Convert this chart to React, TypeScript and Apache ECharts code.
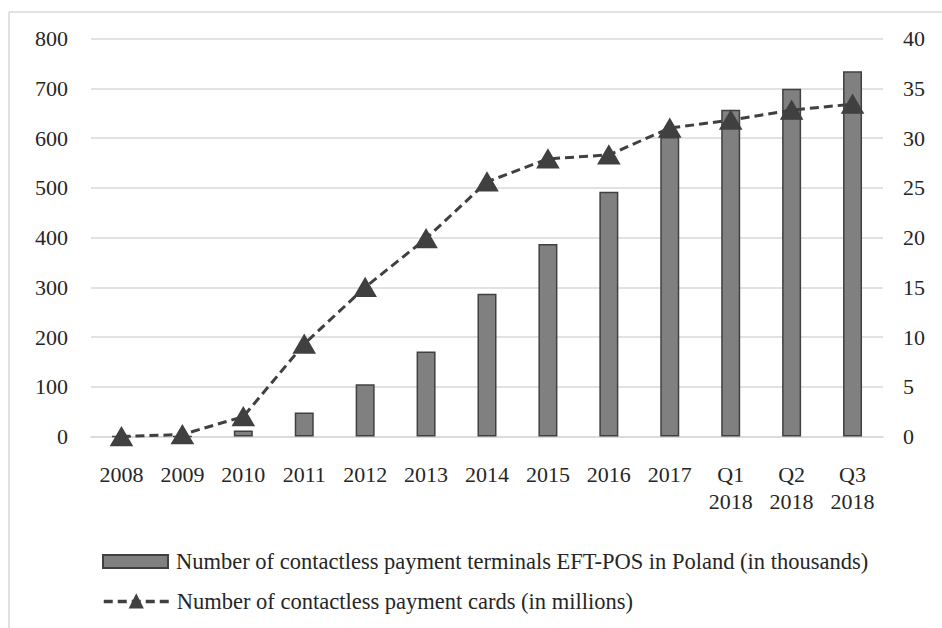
import React, { useEffect, useRef } from "react";
import * as echarts from "echarts";

const categories = ["2008", "2009", "2010", "2011", "2012", "2013", "2014", "2015", "2016", "2017", "Q1\n2018", "Q2\n2018", "Q3\n2018"];
const terminals = [0, 0, 12, 48, 105, 171, 287, 387, 492, 602, 657, 699, 734];
const cards = [0, 0.2, 2.0, 9.3, 15.0, 19.9, 25.6, 27.9, 28.3, 31.0, 31.8, 32.8, 33.4];
const terminalsName = "Number of contactless payment terminals EFT-POS in Poland (in thousands)";
const cardsName = "Number of contactless payment cards (in millions)";

const FONT = "Liberation Serif";
const TEXT = "#262626";
const GRID = "#d9d9d9";
const DARK = "#404040";

export default function App() {
  const ref = useRef<HTMLDivElement>(null);
  useEffect(() => {
    if (!ref.current) return;
    const chart = echarts.init(ref.current, undefined, { renderer: "svg" });
    const legendBase = {
      orient: "horizontal",
      left: 102,
      padding: 0,
      itemWidth: 65,
      itemHeight: 13,
      itemGap: 10,
      textStyle: { fontFamily: FONT, fontSize: 22.5, color: TEXT, padding: [0, 0, 0, 3] },
    };
    chart.setOption({
      animation: false,
      backgroundColor: "#ffffff",
      textStyle: { fontFamily: FONT, color: TEXT },
      graphic: [
        { type: "line", shape: { x1: 9, y1: 12, x2: 9, y2: 700 }, style: { stroke: GRID, lineWidth: 1.5 } },
        { type: "line", shape: { x1: 9, y1: 12, x2: 1000, y2: 12 }, style: { stroke: GRID, lineWidth: 1.5 } },
      ],
      grid: { left: 91, right: 59, top: 38.5, height: 398, containLabel: false },
      legend: [
        { ...legendBase, top: 550, data: [{ name: terminalsName, icon: "rect" }] },
        {
          ...legendBase,
          top: 590,
          itemHeight: 15,
          lineStyle: { width: 3.5, type: [9, 5], color: DARK },
          data: [{ name: cardsName }],
        },
      ],
      xAxis: {
        type: "category",
        data: categories,
        axisTick: { show: false },
        axisLine: { lineStyle: { color: GRID, width: 1.5 } },
        axisLabel: { fontFamily: FONT, fontSize: 22, color: TEXT, margin: 24, lineHeight: 27, interval: 0 },
      },
      yAxis: [
        {
          type: "value",
          min: 0,
          max: 800,
          interval: 100,
          axisLine: { show: false },
          axisTick: { show: false },
          splitLine: { lineStyle: { color: GRID, width: 1.5 } },
          axisLabel: { fontFamily: FONT, fontSize: 22, color: TEXT, margin: 23 },
        },
        {
          type: "value",
          min: 0,
          max: 40,
          interval: 5,
          axisLine: { show: false },
          axisTick: { show: false },
          splitLine: { show: false },
          axisLabel: { fontFamily: FONT, fontSize: 22, color: TEXT, margin: 20 },
        },
      ],
      series: [
        {
          name: terminalsName,
          type: "bar",
          data: terminals,
          yAxisIndex: 0,
          barWidth: 19,
          itemStyle: { color: "#808080", borderColor: DARK, borderWidth: 1.5 },
        },
        {
          name: cardsName,
          type: "line",
          data: cards,
          yAxisIndex: 1,
          symbol: "triangle",
          symbolSize: [21, 18],
          itemStyle: { color: DARK, borderColor: DARK, borderWidth: 1.5 },
          lineStyle: { color: DARK, width: 3, type: [9, 5] },
          z: 5,
        },
      ],
    });
    return () => chart.dispose();
  }, []);
  return <div ref={ref} style={{ position: "fixed", left: 0, top: 0, width: 942, height: 628 }} />;
}
